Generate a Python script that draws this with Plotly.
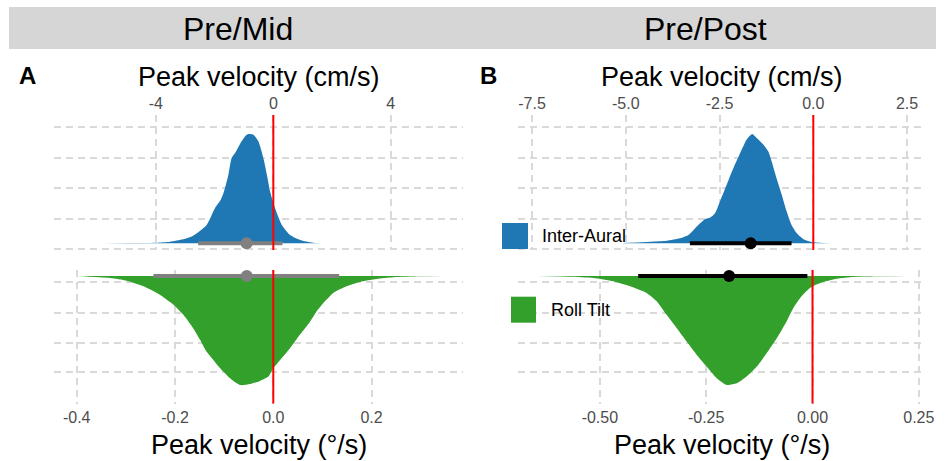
import plotly.graph_objects as go

W, H = 952, 461

# ---------------- data ----------------
# Panel A (Pre/Mid) - Inter-Aural density, x in cm/s, normalised height
a_ia_x = [-6.8, -5.0, -3.97, -3.52, -3.07, -2.73, -2.27, -1.99, -1.79, -1.68, -1.53, -1.42, -1.27, -1.08,
          -0.91, -0.82, -0.68, -0.51, -0.34, -0.22, -0.11, 0.06, 0.29, 0.57, 0.91, 1.36, 1.85]
a_ia_h = [0.0, 0.003, 0.006, 0.015, 0.037, 0.07, 0.168, 0.321, 0.398, 0.474, 0.627, 0.780, 0.841, 0.933,
          0.994, 1.0, 0.994, 0.933, 0.780, 0.627, 0.474, 0.321, 0.168, 0.076, 0.031, 0.006, 0.0]
# Panel A - Roll Tilt density, x in deg/s
a_rt_x = [-0.400, -0.332, -0.298, -0.264, -0.231, -0.203, -0.183, -0.163, -0.149, -0.136, -0.122, -0.108,
          -0.088, -0.068, -0.047, -0.027, -0.010, 0.000, 0.014, 0.034, 0.054, 0.075, 0.088, 0.102, 0.122,
          0.149, 0.176, 0.210, 0.244, 0.298, 0.346]
a_rt_h = [0.0, 0.018, 0.043, 0.095, 0.172, 0.264, 0.356, 0.479, 0.586, 0.693, 0.770, 0.847,
          0.939, 1.0, 0.991, 0.963, 0.923, 0.847, 0.770, 0.663, 0.540, 0.417, 0.325, 0.248, 0.156,
          0.095, 0.055, 0.028, 0.012, 0.003, 0.0]
# Panel B (Pre/Post) - Inter-Aural density, cm/s
b_ia_x = [-5.07, -4.35, -3.91, -3.55, -3.33, -3.15, -3.02, -2.89, -2.75, -2.62, -2.49, -2.31, -2.13, -1.95,
          -1.78, -1.63, -1.51, -1.33, -1.20, -1.11, -0.98, -0.84, -0.71, -0.58, -0.44, -0.27, 0.00, 0.45]
b_ia_h = [0.003, 0.015, 0.024, 0.046, 0.076, 0.138, 0.183, 0.220, 0.235, 0.275, 0.382, 0.535, 0.688, 0.826,
          0.948, 1.0, 0.963, 0.902, 0.841, 0.749, 0.596, 0.443, 0.291, 0.168, 0.092, 0.040, 0.009, 0.0]
# Panel B - Roll Tilt density, deg/s
b_rt_x = [-0.649, -0.570, -0.515, -0.468, -0.429, -0.390, -0.366, -0.343, -0.319, -0.296, -0.272, -0.249,
          -0.225, -0.202, -0.178, -0.155, -0.131, -0.108, -0.084, -0.061, -0.045, -0.029, -0.006, 0.018,
          0.057, 0.096, 0.159, 0.221]
b_rt_h = [0.0, 0.006, 0.018, 0.049, 0.095, 0.156, 0.233, 0.356, 0.479, 0.601, 0.724, 0.831,
          0.939, 1.0, 0.985, 0.923, 0.831, 0.709, 0.571, 0.417, 0.294, 0.202, 0.110, 0.064,
          0.025, 0.009, 0.003, 0.0]

# point estimate and interval [low, point, high]
a_ia_int = [-2.56, -0.91, 0.31]
a_rt_int = [-0.244, -0.054, 0.134]
b_ia_int = [-3.29, -1.67, -0.58]
b_rt_int = [-0.410, -0.196, -0.012]

# tick labels
a_top_ticks = [-4, 0, 4]
a_top_text = ["-4", "0", "4"]
a_bot_ticks = [-0.4, -0.2, 0.0, 0.2]
a_bot_text = ["-0.4", "-0.2", "0.0", "0.2"]
b_top_ticks = [-7.5, -5.0, -2.5, 0.0, 2.5]
b_top_text = ["-7.5", "-5.0", "-2.5", "0.0", "2.5"]
b_bot_ticks = [-0.50, -0.25, 0.0, 0.25]
b_bot_text = ["-0.50", "-0.25", "0.00", "0.25"]

groups = ["Inter-Aural", "Roll Tilt"]
panels = ["Pre/Mid", "Pre/Post"]

# ---------------- styles ----------------
BLUE = "#1f78b4"
GREEN = "#33a02c"
GRID = "#d9d9d9"
FONT = "Liberation Sans, Arial, Helvetica, sans-serif"


def px_x(p):
    return p / W


def px_y(p):
    return 1 - p / H


A_dom = [px_x(54), px_x(463)]
B_dom = [px_x(518), px_x(926)]
UP_dom = [px_y(250), px_y(115)]
LO_dom = [px_y(403.5), px_y(270)]

up_range = [-0.0613, 1.1738]
lo_range = [-1.1697, 0.055]
up_grid = [-0.052, 0.226, 0.505, 0.783, 1.062]
lo_grid = [-0.055, -0.335, -0.615, -0.885, -1.165]

fig = go.Figure()


def add_panel(xa, ya, xs, hs, color, interval, icolor, sign):
    fig.add_trace(go.Scatter(x=xs, y=[sign * h for h in hs], mode="lines",
                             line=dict(width=0, color=color, shape="spline", smoothing=0.6),
                             fill="tozeroy", fillcolor=color, xaxis=xa, yaxis=ya, hoverinfo="skip"))
    fig.add_trace(go.Scatter(x=[interval[0], interval[2]], y=[0, 0], mode="lines",
                             line=dict(color=icolor, width=4), xaxis=xa, yaxis=ya, hoverinfo="skip"))
    fig.add_trace(go.Scatter(x=[interval[1]], y=[0], mode="markers",
                             marker=dict(color=icolor, size=12), xaxis=xa, yaxis=ya, hoverinfo="skip"))


add_panel("x", "y", a_ia_x, a_ia_h, BLUE, a_ia_int, "#808080", 1)
add_panel("x2", "y2", a_rt_x, a_rt_h, GREEN, a_rt_int, "#808080", -1)
add_panel("x3", "y3", b_ia_x, b_ia_h, BLUE, b_ia_int, "#000000", 1)
add_panel("x4", "y4", b_rt_x, b_rt_h, GREEN, b_rt_int, "#000000", -1)


def xax(domain, rng, tv, tt, side, anchor):
    return dict(domain=domain, range=rng, tickvals=tv, ticktext=tt, side=side, anchor=anchor,
                showgrid=True, gridcolor=GRID, griddash="7px,5px", gridwidth=1.5,
                zeroline=False, showline=False, ticks="", ticklabelstandoff=2, automargin=False,
                tickfont=dict(size=16, color="#4d4d4d", family=FONT), fixedrange=True)


def yax(domain, rng, grid, anchor):
    return dict(domain=domain, range=rng, tickvals=grid, showticklabels=False, anchor=anchor,
                showgrid=True, gridcolor=GRID, griddash="7px,5px", gridwidth=1.5, automargin=False,
                zeroline=False, showline=False, ticks="", fixedrange=True)


fig.update_layout(
    width=W, height=H, margin=dict(l=0, r=0, t=0, b=0, autoexpand=False),
    plot_bgcolor="white", paper_bgcolor="white", showlegend=False,
    font=dict(family=FONT, color="black"),
    xaxis=xax(A_dom, [-7.47, 6.46], a_top_ticks, a_top_text, "top", "y"),
    yaxis=yax(UP_dom, up_range, up_grid, "x"),
    xaxis2=xax(A_dom, [-0.4462, 0.3860], a_bot_ticks, a_bot_text, "bottom", "y2"),
    yaxis2=yax(LO_dom, lo_range, lo_grid, "x2"),
    xaxis3=xax(B_dom, [-7.875, 3.005], b_top_ticks, b_top_text, "top", "y3"),
    yaxis3=yax(UP_dom, up_range, up_grid, "x3"),
    xaxis4=xax(B_dom, [-0.6925, 0.2669], b_bot_ticks, b_bot_text, "bottom", "y4"),
    yaxis4=yax(LO_dom, lo_range, lo_grid, "x4"),
)

shapes = []
# strip
shapes.append(dict(type="rect", xref="paper", yref="paper", x0=px_x(9), x1=px_x(936), y0=px_y(49), y1=px_y(7),
                   fillcolor="#d6d6d6", line=dict(width=0), layer="below"))
# zero reference lines
for xa, ya in [("x", "y"), ("x2", "y2"), ("x3", "y3"), ("x4", "y4")]:
    shapes.append(dict(type="line", xref=xa, yref=ya + " domain", x0=0, x1=0, y0=0, y1=1,
                       line=dict(color="#ff0000", width=2), layer="above"))
# legend keys
shapes.append(dict(type="rect", xref="paper", yref="paper", x0=px_x(502), x1=px_x(528), y0=px_y(249), y1=px_y(223),
                   fillcolor=BLUE, line=dict(width=0)))
shapes.append(dict(type="rect", xref="paper", yref="paper", x0=px_x(511), x1=px_x(536), y0=px_y(322.7), y1=px_y(296.7),
                   fillcolor=GREEN, line=dict(width=0)))
fig.update_layout(shapes=shapes)

ann = []
ann.append(dict(text=panels[0], x=px_x(238), y=px_y(29), xref="paper", yref="paper", showarrow=False,
                font=dict(size=32, color="black"), xanchor="center", yanchor="middle"))
ann.append(dict(text=panels[1], x=px_x(705), y=px_y(29), xref="paper", yref="paper", showarrow=False,
                font=dict(size=32, color="black"), xanchor="center", yanchor="middle"))
ann.append(dict(text="<b>A</b>", x=px_x(17), y=px_y(76), xref="paper", yref="paper", showarrow=False,
                font=dict(size=24, color="black"), xanchor="left", yanchor="middle"))
ann.append(dict(text="<b>B</b>", x=px_x(478), y=px_y(76), xref="paper", yref="paper", showarrow=False,
                font=dict(size=24, color="black"), xanchor="left", yanchor="middle"))
for cx in [(54 + 463) / 2, (518 + 926) / 2]:
    ann.append(dict(text="Peak velocity (cm/s)", x=px_x(cx), y=px_y(77), xref="paper", yref="paper", showarrow=False,
                    font=dict(size=27, color="black"), xanchor="center", yanchor="middle"))
    ann.append(dict(text="Peak velocity (°/s)", x=px_x(cx), y=px_y(445), xref="paper", yref="paper", showarrow=False,
                    font=dict(size=27, color="black"), xanchor="center", yanchor="middle"))
ann.append(dict(text=groups[0], x=px_x(540), y=px_y(236), xref="paper", yref="paper", showarrow=False,
                font=dict(size=18, color="black"), xanchor="left", yanchor="middle"))
ann.append(dict(text=groups[1], x=px_x(549), y=px_y(310), xref="paper", yref="paper", showarrow=False,
                font=dict(size=18, color="black"), xanchor="left", yanchor="middle"))
fig.update_layout(annotations=ann)

fig.write_html("out.html")
